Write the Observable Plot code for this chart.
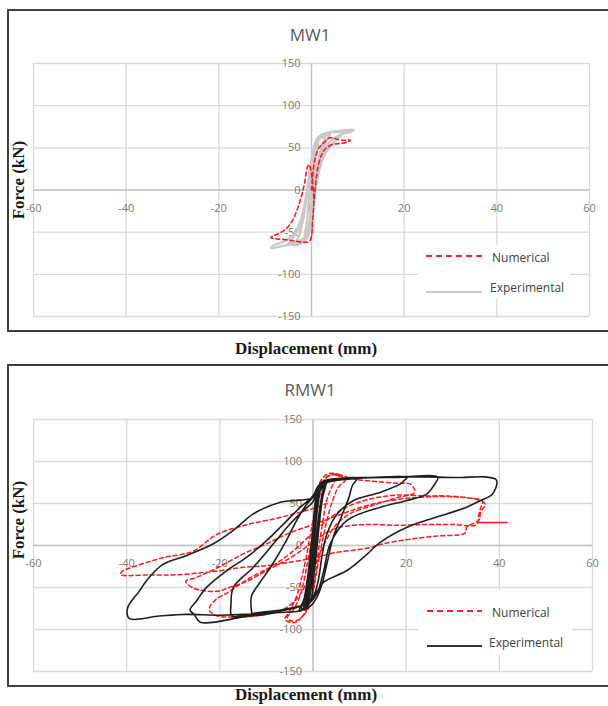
<!DOCTYPE html>
<html><head><meta charset="utf-8">
<script src="https://cdn.jsdelivr.net/npm/d3@7"></script>
<script src="https://cdn.jsdelivr.net/npm/@observablehq/plot@0.6"></script>
<style>
html,body{margin:0;padding:0;overflow:hidden;background:#fff;width:608px;height:706px}
#root{position:relative;width:608px;height:706px;overflow:hidden}
.box{position:absolute;border:2px solid #404040;box-sizing:border-box}
.abs{position:absolute;white-space:nowrap}
.title{font-family:"Open Sans",sans-serif;font-size:17px;color:#595959;transform:translate(-50%,-50%)}
.xlab{font-family:"Liberation Serif","Times New Roman",serif;font-weight:bold;font-size:17px;line-height:18px;color:#1a1a1a;transform:translate(-50%,-50%)}
.ylab{font-family:"Liberation Serif","Times New Roman",serif;font-weight:bold;font-size:17px;color:#1a1a1a;transform:translate(-50%,-50%) rotate(-90deg)}
.leg{position:absolute;background:#fff}
.legtxt{font-family:"Open Sans",sans-serif;font-size:12px;color:#404040;transform:translateY(-50%)}
svg.plot{position:absolute;left:0}
</style>
</head><body><div id="root"></div>
<script>
// ---- tick values ----
const xTicks = [-60, -40, -20, 0, 20, 40, 60];
const yTicks = [-150, -100, -50, 0, 50, 100, 150];
const seriesNames = ["Numerical", "Experimental"];
const panelTitles = ["MW1", "RMW1"];

// ---- MW1 (displacement mm, force kN) ----
const mw1Exp = [[0,0],[0.3,25],[0.7,45],[1.2,55],[1.5,58],[1.1,45],[0.5,15],[0,-15],[-0.5,-40],[-1,-52],[-1.5,-56],[-1.1,-42],[-0.6,-15],[-0.1,15],[0.4,40],[1,56],[2,62],[3.5,65],[4,66],[3.2,58],[2,40],[1,15],[0.3,-10],[-0.4,-38],[-1.2,-55],[-2.5,-60],[-4.5,-63],[-5,-64],[-4,-57],[-2.5,-40],[-1.3,-15],[-0.5,10],[0.2,35],[0.8,55],[2,64],[4,68],[6,69],[7,69.5],[6.2,64],[4.5,55],[2.5,38],[1.2,12],[0.4,-15],[-0.4,-42],[-1.2,-57],[-3,-63],[-6,-66],[-8.7,-69],[-8.4,-66.5],[-6,-61],[-4,-54],[-2.6,-40],[-1.6,-20],[-0.8,5],[-0.1,30],[0.6,52],[1.5,63],[3.5,68],[6,70],[9.1,71.4],[9,70],[7,67],[4.5,60],[2.6,45],[1.4,20],[0.6,-10],[-0.2,-40],[-1,-58],[-2.5,-64],[-4,-65],[-3,-58],[-1.8,-35],[-1,-5],[-0.3,25],[0.4,48],[1.5,60],[3,64],[2.2,52],[1.3,30],[0.7,0],[0,-30],[-0.7,-50],[-1.8,-60]];
const mw1Num = [[0,0],[0.3,20],[0.8,38],[1.6,50],[2.8,57],[3.9,61.9],[5,61],[6.5,59],[8.4,59],[7.8,57],[6,55],[4.5,54],[3.2,50],[2.2,42],[1.5,30],[1,12],[0.6,-10],[0.3,-32],[0.1,-50],[-0.3,-60],[-1.2,-62],[-3,-61],[-5.5,-59],[-8.8,-56.4],[-8,-54],[-6.5,-50],[-5.2,-44.5],[-4,-35],[-3,-22],[-2.2,-8],[-1.5,8],[-0.9,26.9],[-0.5,30],[0.2,10],[0.5,-15],[0.2,-40],[0,-55],[-0.5,-62]];

// ---- RMW1 ----
const rmw1Exp = [[0,0],[0.4,30],[0.8,55],[1.2,65],[0.9,50],[0.4,20],[-0.1,-20],[-0.5,-50],[-0.9,-62],[-0.6,-45],[-0.2,-15],[0.2,15],[0.6,45],[1.1,62],[1.6,70],[1.2,55],[0.6,25],[0,-10],[-0.5,-45],[-1,-65],[-1.6,-72],[-1.2,-55],[-0.6,-25],[0,10],[0.5,45],[1,65],[2,74],[3,77],[2.2,65],[1.4,40],[0.7,10],[0,-30],[-0.6,-58],[-1.5,-74],[-3,-78],[-2,-65],[-1.2,-40],[-0.5,-5],[0.3,35],[0.9,62],[1.8,72],[3,76],[2.4,68],[1.6,45],[0.9,15],[0.2,-20],[-0.4,-50],[-1.2,-70],[-2.5,-76],[-1.8,-62],[-1,-35],[-0.3,0],[0.6,38],[1.3,62],[2.4,73],[1.9,60],[1.1,30],[0.5,0],[-0.1,-35],[-0.8,-60],[-2,-74],[-1.4,-58],[-0.7,-30],[0,5],[0.8,42],[1.6,66],[2.8,74],[2.1,58],[1.4,28],[0.8,-5],[0.1,-40],[-0.3,-62],[-1.8,-77],[-0.9,-55],[-0.2,-20],[0.2,35],[0.9,64],[2,75],[5,79],[9.5,80],[8.5,72],[7.7,57],[6,33],[4.3,9],[3.1,-19],[2,-45],[0.8,-62],[-0.5,-72],[-3,-78],[-8,-80],[-13,-83],[-13.2,-78],[-13.2,-60],[-11.5,-45],[-9,-25],[-6,3],[-3.5,30],[-1.5,48],[0,58],[0.8,68],[2,76],[6,80],[12,81],[20.2,81],[19.5,77],[18.8,73.4],[14.5,63.5],[8.7,53.6],[5.2,37.7],[3,13.9],[2,-10],[1.2,-40],[0.3,-58],[-1,-68],[-8,-78],[-15,-85],[-24.2,-91.3],[-25.5,-82],[-26.4,-77],[-25,-66],[-22.8,-49.6],[-18.5,-29.8],[-14.2,-13.9],[-9.9,6],[-6.3,25.8],[-2.7,45.6],[-0.5,56],[1,67],[3,76],[10,80],[18,81],[26.8,81.3],[26,72],[24.5,61.5],[20.2,53.6],[14.5,45.6],[7.3,29.8],[3.7,2],[2.3,-30],[1,-55],[-0.5,-67],[-5,-75],[-12,-80],[-17.4,-84],[-17.6,-70],[-17.1,-50],[-12.8,-25.8],[-8.5,2],[-4.9,25.8],[-2,41.7],[0,52],[1,65],[3,75],[10,80],[20,82],[30,81],[32,81],[36.8,81.7],[39.2,79],[39.5,75.4],[38.5,61],[36,53.6],[32.7,45],[28.8,37.7],[20.2,21.8],[14.5,4],[10.9,-13.9],[7.3,-29.8],[2.3,-43.7],[0.5,-58],[-1,-68],[-5,-76],[-12,-81],[-20,-83],[-27.3,-82],[-33,-84],[-39.4,-87],[-39.8,-74.5],[-37.3,-54.6],[-35.7,-41.7],[-32.3,-22.7],[-27.1,-11.9],[-21.4,2],[-17.1,17.9],[-12.8,37.7],[-7,51.6],[-2.7,54],[0,57],[1,68],[1.5,74]];
const rmw1Num = [[0,0],[0.5,30],[1,60],[1.5,75],[2.5,83],[4,86],[5.5,84],[4.5,75],[3,55],[2,25],[1.2,-5],[0.5,-35],[-0.3,-60],[-1.5,-78],[-3,-88],[-4.5,-90],[-5.5,-86],[-4,-75],[-2.5,-55],[-1.5,-30],[-0.5,0],[0.5,30],[1.5,60],[2.5,78],[4,84],[6,82],[7,78],[5.5,70],[4,50],[3,30],[2,5],[1,-25],[0,-55],[-1,-75],[-2.5,-86],[-4,-92],[-6,-88],[-5,-78],[-3.5,-60],[-2.5,-40],[-1.5,-15],[-0.5,15],[0.5,45],[1.5,70],[3,82],[5,85],[8,80],[10,78],[14,76],[18,74],[21,73],[21.8,63],[18,57],[13,48],[8,38],[5,25],[3,8],[1,-15],[-1,-40],[-3,-60],[-6,-75],[-10,-82],[-16,-85],[-21,-83],[-22.3,-76],[-21,-65],[-18,-55],[-14,-40],[-9,-25],[-5,-10],[-1,10],[3,30],[7,45],[12,55],[18,60],[24.3,59],[28.5,59],[33,57],[36.4,53],[36,45],[35.5,35],[35.2,25],[30,25],[24.3,25],[18,24],[11.8,25],[5.2,21],[2,12],[-1,0],[-5,-15],[-10,-30],[-14,-42],[-18,-50],[-20.7,-54.6],[-25.7,-50.6],[-27.3,-42.6],[-25,-38],[-20,-25],[-15,-10],[-10,2],[-5,15],[0,25],[5,35],[10,45],[15,52],[20,56],[25,58],[30,58],[35,55],[37,49],[36,40],[35.6,30],[33,22],[32.7,15],[26,11],[20.2,7],[15,2],[11.8,-3],[4.3,-9],[0,-15],[-5,-20],[-10,-24],[-15,-26],[-20,-30],[-25,-33],[-30,-35],[-35,-35],[-41.3,-34.7],[-41,-31],[-38.2,-24.7],[-32.3,-14.7],[-25.7,-6.8],[-20.7,13],[-14,25],[-7.3,33],[-0.7,43],[3,50]];
const rmw1NumTail = [[35.2,27.5],[41.7,27.5]];

const root = document.getElementById("root");
function el(cls, css, text) {
  const d = document.createElement("div");
  d.className = cls;
  Object.assign(d.style, css);
  if (text != null) d.textContent = text;
  root.appendChild(d);
  return d;
}

function panel(cfg) {
  el("box", {left: "7px", top: cfg.boxTop + "px", width: "640px", height: cfg.boxH + "px"});
  const marks = [
    Plot.gridX(xTicks, {stroke: "#d9d9d9", strokeOpacity: 1, strokeWidth: 1.3}),
    Plot.gridY(yTicks, {stroke: "#d9d9d9", strokeOpacity: 1, strokeWidth: 1.3}),
    Plot.ruleX([0], {stroke: "#c4c4c4", strokeWidth: 1.4}),
    Plot.ruleY([0], {stroke: "#c4c4c4", strokeWidth: 1.4}),
    Plot.text(yTicks, {x: () => 0, y: d => d, text: d => String(d), textAnchor: "end", dx: -11, fill: "#7a7a7a", fontSize: 11}),
    Plot.text(xTicks, {x: d => d, y: () => 0, text: d => String(d), dy: 18, fill: "#7a7a7a", fontSize: 11}),
    ...cfg.lines
  ];
  const svg = Plot.plot({
    width: 608, height: cfg.h,
    marginLeft: 33, marginRight: cfg.mr, marginTop: cfg.mt, marginBottom: cfg.mb,
    x: {domain: [-60, 60], axis: null},
    y: {domain: [-150, 150], axis: null},
    style: {fontFamily: "Open Sans, sans-serif", background: "transparent", overflow: "visible"},
    marks
  });
  svg.classList.add("plot");
  svg.style.top = cfg.top + "px";
  root.appendChild(svg);
  el("abs title", {left: "310px", top: cfg.titleY + "px"}, cfg.title);
  el("abs xlab", {left: "306px", top: cfg.xlabY + "px"}, "Displacement (mm)");
  el("abs ylab", {left: "19px", top: cfg.ylabY + "px"}, "Force (kN)");
  // legend
  const L = cfg.legend;
  el("leg", {left: L.x + "px", top: L.y + "px", width: L.w + "px", height: L.h + "px"});
  const ns = "http://www.w3.org/2000/svg";
  const s = document.createElementNS(ns, "svg");
  s.setAttribute("width", 608); s.setAttribute("height", 706);
  Object.assign(s.style, {position: "absolute", left: "0", top: "0", overflow: "visible"});
  const ln = (y, stroke, dash, w) => {
    const l = document.createElementNS(ns, "line");
    l.setAttribute("x1", L.lx1); l.setAttribute("x2", L.lx2);
    l.setAttribute("y1", y); l.setAttribute("y2", y);
    l.setAttribute("stroke", stroke); l.setAttribute("stroke-width", w);
    if (dash) l.setAttribute("stroke-dasharray", dash);
    s.appendChild(l);
  };
  ln(L.y1, "#ff2020", "6,4", 2);
  ln(L.y2, cfg.expColor, null, 2);
  root.appendChild(s);
  el("abs legtxt", {left: L.t1x + "px", top: L.t1y + "px"}, seriesNames[0]);
  el("abs legtxt", {left: L.t2x + "px", top: L.t2y + "px"}, seriesNames[1]);
}

const xy = {x: d => d[0], y: d => d[1], curve: "catmull-rom"};

panel({
  boxTop: 9, boxH: 323, top: 0, h: 340, mt: 63, mb: 24, mr: 19,
  title: panelTitles[0], titleY: 34, xlabY: 349, ylabY: 180, expColor: "#c8c8c8",
  lines: [
    Plot.line(mw1Exp, {...xy, stroke: "#c9c9c9", strokeWidth: 2.4}),
    Plot.line(mw1Num, {...xy, stroke: "#ff1a1a", strokeWidth: 1.6, strokeDasharray: "4,3"})
  ],
  legend: {x: 418, y: 245, w: 152, h: 53, lx1: 426, lx2: 482, y1: 256, y2: 292, t1x: 492, t1y: 257, t2x: 490, t2y: 287}
});

panel({
  boxTop: 364, boxH: 323, top: 360, h: 330, mt: 59, mb: 19, mr: 16,
  title: panelTitles[1], titleY: 389, xlabY: 695, ylabY: 520, expColor: "#333333",
  lines: [
    Plot.line(rmw1Num, {...xy, stroke: "#ff1a1a", strokeWidth: 1.5, strokeDasharray: "4,3"}),
    Plot.line(rmw1NumTail, {...xy, stroke: "#ff1a1a", strokeWidth: 1.5}),
    Plot.line(rmw1Exp, {...xy, stroke: "#1f1f1f", strokeWidth: 1.6})
  ],
  legend: {x: 418, y: 590, w: 154, h: 65, lx1: 427, lx2: 482, y1: 611, y2: 646, t1x: 492, t1y: 612, t2x: 489, t2y: 642}
});
</script>
</body></html>
